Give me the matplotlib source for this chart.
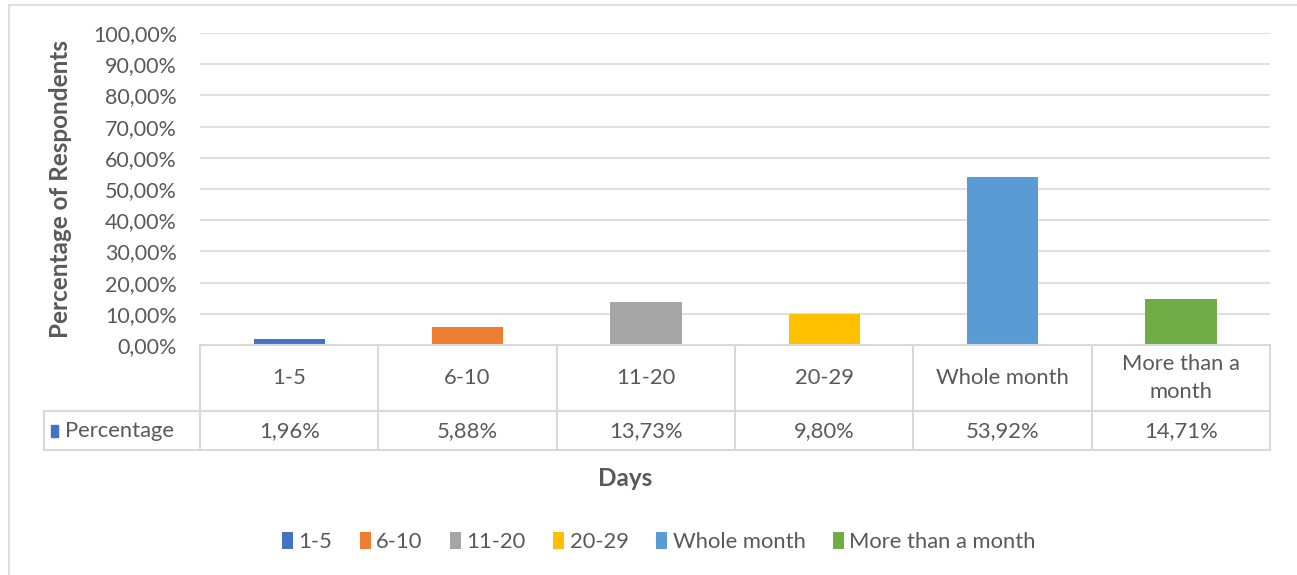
import matplotlib.pyplot as plt
from matplotlib.patches import Rectangle, Patch

categories = ["1-5", "6-10", "11-20", "20-29", "Whole month", "More than a month"]
table_labels = ["1-5", "6-10", "11-20", "20-29", "Whole month", "More than a\nmonth"]
percentages = [1.96, 5.88, 13.73, 9.80, 53.92, 14.71]
colors = ["#4472C4", "#ED7D31", "#A5A5A5", "#FFC000", "#5B9BD5", "#70AD47"]
yticks = [0, 10, 20, 30, 40, 50, 60, 70, 80, 90, 100]

plt.rcParams["font.family"] = ["Lato", "DejaVu Sans"]
text_color = "#595959"
grid_color = "#D9D9D9"
fs = 15.8


def pct(v):
    return "{:.2f}%".format(v).replace(".", ",")


W, H = 1297, 575
fig = plt.figure(figsize=(W / 100, H / 100), dpi=100)

# outer chart frame
fig.patches.append(Rectangle((9 / W, -0.1), 1.2, 1 - 5 / H + 0.1, transform=fig.transFigure,
                             fill=False, edgecolor=grid_color, linewidth=1.2))

# bar area
ax = fig.add_axes([200 / W, 1 - 345 / H, 1070 / W, 312 / H])
x = list(range(len(categories)))
ax.bar(x, percentages, width=0.4, color=colors, zorder=3)
ax.set_xlim(-0.5, 5.5)
ax.set_ylim(0, 100)
ax.set_yticks(yticks)
ax.set_yticklabels([pct(v) for v in yticks], fontsize=15.5, color=text_color)
ax.set_xticks([])
ax.tick_params(axis="y", length=0, pad=16.5)
ax.grid(axis="y", color=grid_color, linewidth=1.2, zorder=0)
for s in ax.spines.values():
    s.set_visible(False)
ax.set_ylabel("Percentage of Respondents", fontsize=17.5, fontweight="bold",
              color=text_color)
ax.yaxis.set_label_coords(-128 / 1070, 0.5)

# data table
tb = fig.add_axes([44 / W, 1 - 450 / H, 1226 / W, 105 / H])
left_w = 156 / (1070 / 6)
tb.set_xlim(-0.5 - left_w, 5.5)
tb.set_ylim(105, 0)
tb.axis("off")
lw = 1.5
tb.plot([-0.5, 5.5], [0, 0], color=grid_color, lw=lw, clip_on=False)
for yy in [66, 105]:
    tb.plot([-0.5 - left_w, 5.5], [yy, yy], color=grid_color, lw=lw, clip_on=False)
tb.plot([-0.5 - left_w] * 2, [66, 105], color=grid_color, lw=lw, clip_on=False)
for i in range(7):
    tb.plot([i - 0.5] * 2, [0, 105], color=grid_color, lw=lw, clip_on=False)
for i, (lab, val) in enumerate(zip(table_labels, percentages)):
    tb.text(i, 33, lab, ha="center", va="center", fontsize=fs, color=text_color,
            linespacing=1.5)
    tb.text(i, 86, pct(val), ha="center", va="center", fontsize=fs, color=text_color)
tb.add_patch(Rectangle((-0.5 - left_w + 7 / 178.3, 80), 7 / 178.3, 12,
                       color=colors[0], clip_on=False))
tb.text(-0.5 - left_w + 21 / 178.3, 86, "Percentage", ha="left", va="center",
        fontsize=fs, color=text_color)

fig.text(625 / W, 1 - 479 / H, "Days", ha="center", va="center", fontsize=17.5,
         fontweight="bold", color=text_color)

handles = [Patch(facecolor=c, edgecolor="none") for c in colors]
fig.legend(handles, categories, loc="center", bbox_to_anchor=(659 / W, 1 - 542 / H),
           ncol=6, frameon=False, fontsize=fs, labelcolor=text_color,
           handlelength=0.5, handleheight=0.85, handletextpad=0.25, columnspacing=1.25)

fig.savefig("out.png", dpi=100)
